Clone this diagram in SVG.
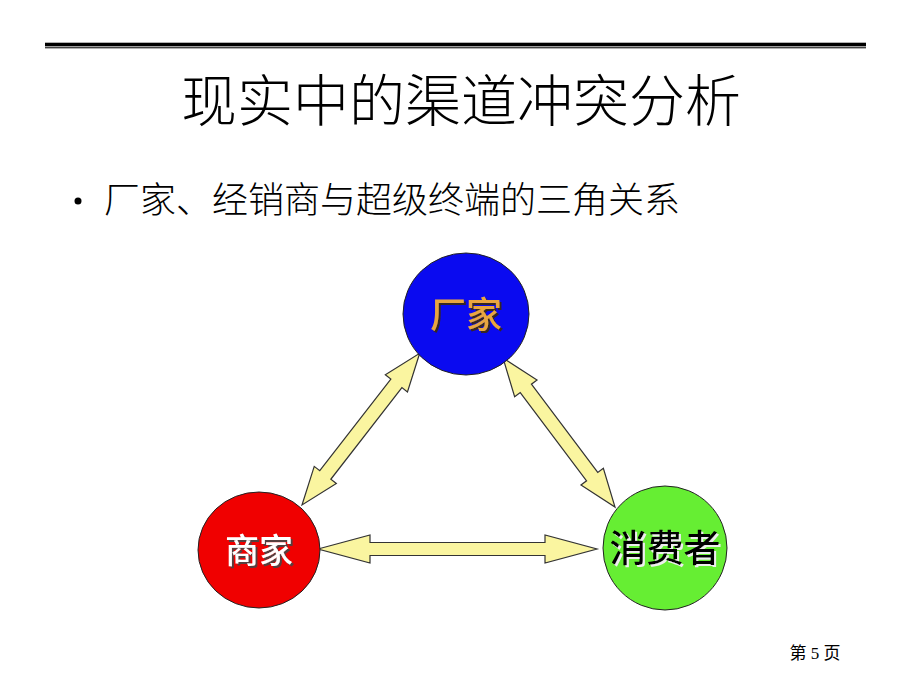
<svg xmlns="http://www.w3.org/2000/svg" width="920" height="690" viewBox="0 0 920 690">
<defs>
<filter id="shDark" x="-20%" y="-20%" width="140%" height="140%"><feDropShadow dx="2" dy="2" stdDeviation="0.6" flood-color="#3a2a10" flood-opacity="0.9"/></filter>
<filter id="shGray" x="-20%" y="-20%" width="140%" height="140%"><feDropShadow dx="2" dy="2" stdDeviation="0.6" flood-color="#444" flood-opacity="0.9"/></filter>
<filter id="shLight" x="-20%" y="-20%" width="140%" height="140%"><feDropShadow dx="2" dy="2" stdDeviation="0.6" flood-color="#eee" flood-opacity="1"/></filter>
</defs>
<style>
.cjk{font-family:"Noto Sans CJK SC","Liberation Sans",sans-serif;}
.arrow{fill:#FAF5A0;stroke:#333;stroke-width:1.2;stroke-linejoin:miter;}
.node{stroke:#222;stroke-width:1;}
.lbl{font-family:"Noto Sans CJK SC",sans-serif;text-anchor:middle;font-weight:500;}
</style>
<rect width="920" height="690" fill="#fff"/>
<g id="rule">
<rect x="45" y="42.7" width="821" height="3.6" fill="#000"/>
<rect x="45" y="46.3" width="821" height="1" fill="#999"/>
<rect x="45" y="47.3" width="821" height="1" fill="#000"/>
</g>
<text class="cjk" x="461" y="121" font-size="56" font-weight="300" text-anchor="middle" fill="#000">现实中的渠道冲突分析</text>
<circle cx="78" cy="201" r="3.5" fill="#000"/>
<text class="cjk" x="104" y="213" font-size="36" font-weight="300" fill="#000">厂家、经销商与超级终端的三角关系</text>
<g id="connectors">
<path class="arrow" transform="translate(302,505) rotate(-52.2)" d="M0,0 L38,-14 L38,-7 L154,-7 L154,-14 L192,0 L154,14 L154,7 L38,7 L38,14 Z"/>
<path class="arrow" transform="translate(503,358) rotate(53.07)" d="M0,0 L38,-14 L38,-7 L148.4,-7 L148.4,-14 L186.4,0 L148.4,14 L148.4,7 L38,7 L38,14 Z"/>
<path class="arrow" d="M318,549 L370,535 L370,542.5 L545,542.5 L545,535 L597,549 L545,563 L545,555.5 L370,555.5 L370,563 Z"/>
</g>
<g id="node-factory">
<ellipse class="node" cx="466" cy="314" rx="63" ry="61" fill="#0A0AF0"/>
<text class="lbl" x="466" y="328" font-size="36" fill="#E9A640" filter="url(#shDark)">厂家</text>
</g>
<g id="node-merchant">
<ellipse class="node" cx="259" cy="550" rx="61" ry="58" fill="#F00000"/>
<text class="lbl" x="259" y="563" font-size="34" fill="#fff" filter="url(#shGray)">商家</text>
</g>
<g id="node-consumer">
<ellipse class="node" cx="665" cy="548" rx="62" ry="62" fill="#66EE33"/>
<text class="lbl" x="665" y="562" font-size="37" fill="#000" filter="url(#shLight)">消费者</text>
</g>
<text x="815" y="659" font-family="Liberation Serif, Noto Sans CJK SC, serif" font-size="17" text-anchor="middle" fill="#000">第 5 页</text>
</svg>
